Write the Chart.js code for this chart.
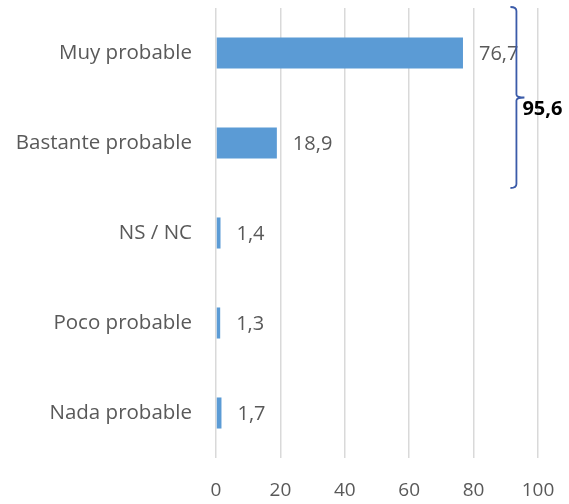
<!DOCTYPE html>
<html>
<head>
<meta charset="utf-8">
<script src="https://cdn.jsdelivr.net/npm/chart.js@4/dist/chart.umd.min.js"></script>
<style>
  html, body { margin: 0; padding: 0; background: #fff; }
  #wrap { width: 569px; height: 504px; }
</style>
</head>
<body>
<div id="wrap"><canvas id="myChart"></canvas></div>
<script>
  // categorias y porcentajes
  const categories = ["Muy probable", "Bastante probable", "NS / NC", "Poco probable", "Nada probable"];
  const values = [76.7, 18.9, 1.4, 1.3, 1.7];
  const xTicks = [0, 20, 40, 60, 80, 100];

  // llave que agrupa las dos primeras categorias
  const bracketCats = [0, 1];
  const bracketAt = 93.3;

  const fontFamily = "'Open Sans', 'Noto Sans', sans-serif";
  const textColor = "#595959";

  const fmt = (v) => v.toFixed(1).replace(".", ",");

  // etiquetas de valor y la llave con el total
  const labelsPlugin = {
    id: "labels",
    afterDatasetsDraw(chart) {
      const ctx = chart.ctx;
      const meta = chart.getDatasetMeta(0);
      ctx.save();
      ctx.font = "20px " + fontFamily;
      ctx.fillStyle = textColor;
      ctx.textAlign = "left";
      ctx.textBaseline = "middle";
      meta.data.forEach((bar, i) => {
        ctx.fillText(fmt(values[i]), bar.x + 16, bar.y + 1);
      });

      const xs = chart.scales.x;
      const ys = chart.scales.y;
      const half = (ys.getPixelForValue(1) - ys.getPixelForValue(0)) / 2;
      const top = ys.getPixelForValue(bracketCats[0]) - half - 1;
      const bottom = ys.getPixelForValue(bracketCats[bracketCats.length - 1]) + half;
      const bx = xs.getPixelForValue(bracketAt);
      const mid = (top + bottom) / 2;

      ctx.strokeStyle = "#3b5ba9";
      ctx.lineWidth = 1.8;
      ctx.beginPath();
      ctx.moveTo(bx - 6, top);
      ctx.quadraticCurveTo(bx, top, bx, top + 4);
      ctx.lineTo(bx, mid - 3);
      ctx.quadraticCurveTo(bx, mid, bx + 8, mid);
      ctx.quadraticCurveTo(bx, mid, bx, mid + 3);
      ctx.lineTo(bx, bottom - 4);
      ctx.quadraticCurveTo(bx, bottom, bx - 6, bottom);
      ctx.stroke();

      const total = bracketCats.reduce((s, i) => s + values[i], 0);
      ctx.font = "bold 20px " + fontFamily;
      ctx.fillStyle = "#000";
      ctx.fillText(fmt(total), bx + 6, mid + 12);
      ctx.restore();
    }
  };

  const data = {
    labels: categories,
    datasets: [
      {
        data: values,
        backgroundColor: "#5b9bd5",
        categoryPercentage: 1,
        barPercentage: 0.345,
      },
    ],
  };

  const config = {
    type: "bar",
    data: data,
    plugins: [labelsPlugin],
    options: {
      indexAxis: "y",
      responsive: true,
      maintainAspectRatio: false,
      animation: false,
      layout: { padding: { top: 8, right: 31, bottom: 0, left: 0 } },
      plugins: {
        legend: { display: false },
        tooltip: { enabled: false },
      },
      scales: {
        x: {
          min: 0,
          max: 100,
          afterBuildTicks(scale) {
            scale.ticks = xTicks.map((v) => ({ value: v }));
          },
          afterFit(scale) {
            scale.height = 46;
            scale.paddingLeft = 0;
            scale.paddingRight = 0;
          },
          grid: { color: "#d9d9d9", lineWidth: 1.5, drawTicks: false },
          border: { display: false },
          ticks: {
            padding: 21,
            color: textColor,
            font: { family: fontFamily, size: 19 },
          },
        },
        y: {
          afterFit(scale) {
            scale.width = 216;
            scale.paddingTop = 0;
            scale.paddingBottom = 0;
          },
          grid: { display: false, drawTicks: false },
          border: { display: false },
          ticks: {
            padding: 24,
            color: textColor,
            font: { family: fontFamily, size: 20.5 },
          },
        },
      },
    },
  };

  const myChart = new Chart(document.getElementById("myChart"), config);
</script>
</body>
</html>
